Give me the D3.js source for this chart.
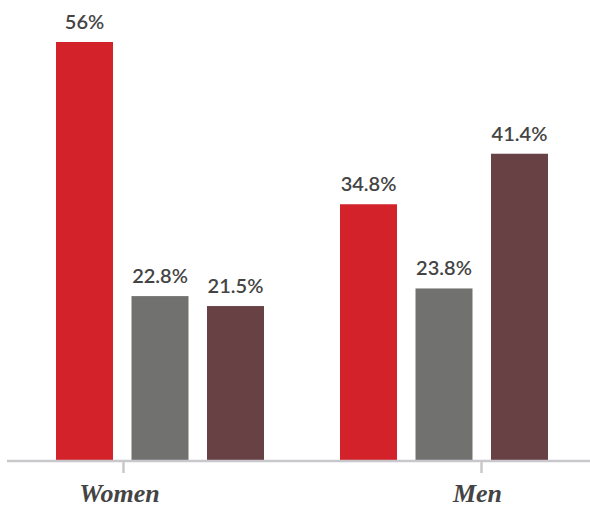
<!DOCTYPE html>
<html>
<head>
<meta charset="utf-8">
<script src="https://cdn.jsdelivr.net/npm/d3@7"></script>
<style>
  body { margin: 0; background: #fff; }
  svg { display: block; }
  .cat text { font-family: "Liberation Serif", "DejaVu Serif", serif; }
</style>
</head>
<body>
<div id="chart"></div>
<script>
// chart data
var groups = ["Women", "Men"];
var series = ["s1", "s2", "s3"];
var women = [56, 22.8, 21.5];
var men = [34.8, 23.8, 41.4];
var labels = [["56%", "22.8%", "21.5%"], ["34.8%", "23.8%", "41.4%"]];
var colors = ["#d4222a", "#717270", "#674143"];

var width = 590, height = 506;
var baseY = 461;

var svg = d3.select("#chart")
    .append("svg")
    .attr("width", width)
    .attr("height", height);

var values = [women, men];

// scales
var x0 = d3.scaleBand()
    .domain(groups)
    .range([56, 548])
    .paddingInner(0.2676)
    .paddingOuter(0);

var x1 = d3.scaleBand()
    .domain(series)
    .range([0, x0.bandwidth()])
    .paddingInner(0.245)
    .paddingOuter(0);

var y = d3.scaleLinear()
    .domain([0, 56])
    .range([470.6, 42]);

var xTick = d3.scalePoint()
    .domain(groups)
    .range([123, 481]);

var color = d3.scaleOrdinal().domain(series).range(colors);

// flatten into rows
var rows = [];
groups.forEach(function (g, gi) {
    series.forEach(function (s, si) {
        rows.push({ group: g, series: s, value: values[gi][si], label: labels[gi][si] });
    });
});

// bars
svg.selectAll("rect.bar")
    .data(rows)
    .enter()
    .append("rect")
    .attr("class", "bar")
    .attr("x", function (d) { return x0(d.group) + x1(d.series); })
    .attr("y", function (d) { return y(d.value); })
    .attr("width", x1.bandwidth())
    .attr("height", function (d) { return baseY - y(d.value); })
    .style("fill", function (d) { return color(d.series); });

// value labels
svg.selectAll("text.val")
    .data(rows)
    .enter()
    .append("text")
    .attr("class", "val")
    .attr("x", function (d) { return x0(d.group) + x1(d.series) + x1.bandwidth() / 2; })
    .attr("y", function (d) { return y(d.value) - 13; })
    .attr("text-anchor", "middle")
    .style("font-family", "Lato, sans-serif")
    .style("font-weight", "600")
    .style("font-size", "20px")
    .style("fill", "#444")
    .text(function (d) { return d.label; });

// x axis
var axis = svg.append("g")
    .attr("class", "cat")
    .attr("transform", "translate(0," + baseY + ")")
    .call(d3.axisBottom(xTick).tickSize(12).tickPadding(20).tickSizeOuter(0));

axis.attr("font-family", null);
axis.select(".domain").remove();
axis.insert("line", ":first-child")
    .attr("x1", 7)
    .attr("x2", width)
    .attr("y1", 0)
    .attr("y2", 0)
    .style("stroke", "#c8c8cc")
    .style("stroke-width", 2.5);

axis.selectAll(".tick line")
    .style("stroke", "#c8c8cc")
    .style("stroke-width", 2.5);

axis.selectAll(".tick text")
    .attr("y", 41)
    .attr("dy", 0)
    .attr("dx", -4)
    .style("font-style", "italic")
    .style("font-weight", "bold")
    .style("font-size", "26px")
    .style("fill", "#444");
</script>
</body>
</html>
